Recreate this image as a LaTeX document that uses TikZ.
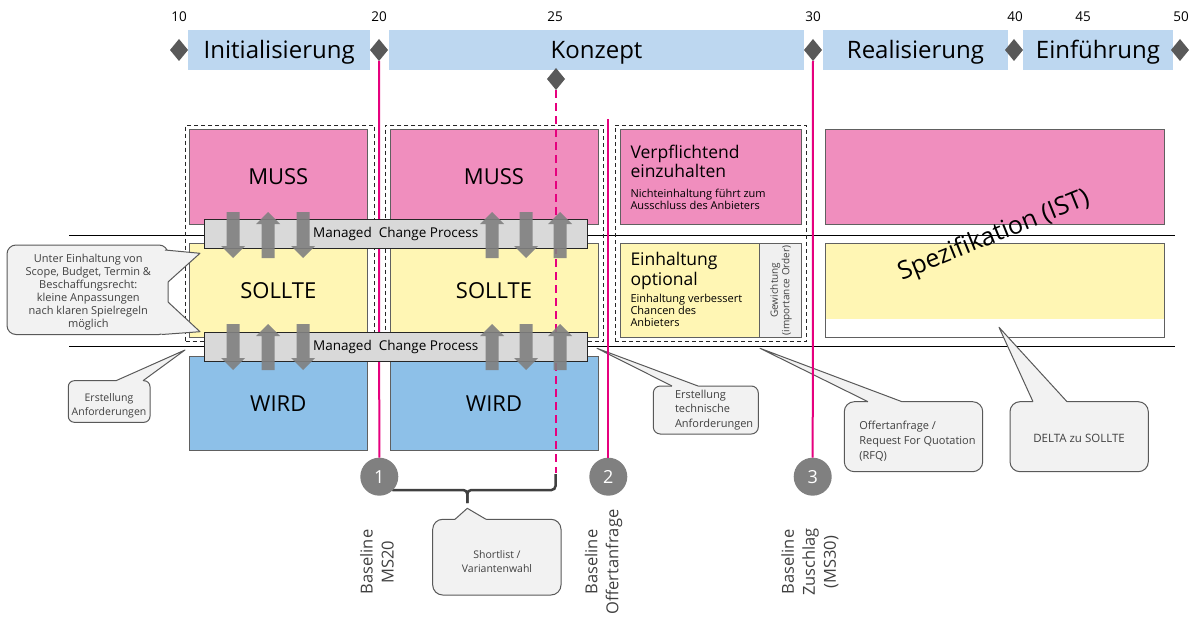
\documentclass[tikz,border=0pt]{standalone}
\usepackage{fontspec}
\setmainfont{Open Sans}
\usetikzlibrary{shapes.geometric}
\definecolor{pinkbox}{RGB}{240,142,190}
\definecolor{yellowbox}{RGB}{255,246,180}
\definecolor{bluebox}{RGB}{141,192,232}
\definecolor{phaseblue}{RGB}{189,215,240}
\definecolor{bargray}{RGB}{217,217,217}
\definecolor{arrowgray}{RGB}{128,128,128}
\definecolor{calloutfill}{RGB}{242,242,242}
\definecolor{calloutline}{RGB}{89,89,89}
\definecolor{msline}{RGB}{230,0,126}
\definecolor{diamondgray}{RGB}{89,89,89}
\definecolor{circlegray}{RGB}{128,128,128}
\definecolor{boxline}{RGB}{96,96,96}
\definecolor{txtgray}{RGB}{64,64,64}
\definecolor{weightgray}{RGB}{240,240,240}
\newcommand\myDn[2]{\fill[arr] ({#1-6.5},{#2}) -- ({#1+6.5},{#2}) -- ({#1+6.5},{#2+34}) -- ({#1+12},{#2+34}) -- ({#1},{#2+46}) -- ({#1-12},{#2+34}) -- ({#1-6.5},{#2+34}) -- cycle;}
\newcommand\myUp[2]{\fill[arr] ({#1},{#2}) -- ({#1+12},{#2+12}) -- ({#1+6.5},{#2+12}) -- ({#1+6.5},{#2+46}) -- ({#1-6.5},{#2+46}) -- ({#1-6.5},{#2+12}) -- ({#1-12},{#2+12}) -- cycle;}
\begin{document}
\begin{tikzpicture}[x=1pt,y=-1pt,
  every node/.style={inner sep=0pt, outer sep=0pt},
  phase/.style={fill=phaseblue, minimum height=40pt, text height=17pt, text depth=0pt, font=\fontsize{24}{28}\selectfont},
  ms/.style={diamond, fill=diamondgray, minimum width=18pt, minimum height=22pt},
  num/.style={font=\fontsize{13.5}{16}\selectfont},
  dbox/.style={draw=black!85, dash pattern=on 4pt off 3pt, line width=0.9pt},
  blk/.style={draw=boxline, line width=1pt, font=\fontsize{22}{26}\selectfont},
  cbar/.style={draw=black!85, fill=bargray, line width=1pt, minimum width=383.3pt, minimum height=29.3pt, font=\fontsize{13.5}{16}\selectfont},
  arr/.style={fill=arrowgray, fill opacity=0.9},
  msl/.style={draw=msline, line width=2pt},
  msc/.style={circle, fill=circlegray, minimum size=38pt, text=white, font=\fontsize{18}{20}\selectfont},
  callout/.style={draw=calloutline, fill=calloutfill, line width=1pt, rounded corners=9pt},
  ptrfill/.style={fill=calloutfill},
  ptrline/.style={draw=calloutline, line width=1pt, line join=round},
  ctext/.style={text=txtgray},
  hl/.style={draw=black, line width=1pt},
  bracket/.style={draw=txtgray, line width=2.5pt, rounded corners=4pt},
  blabel/.style={rotate=90, align=center, text=txtgray, font=\fontsize{16.5}{21}\selectfont},
]
\useasboundingbox (0,0) rectangle (1200,623);

% horizontal separator lines
\coordinate (hlA1) at (69,235.7); \coordinate (hlA2) at (1175,235.7);
\coordinate (hlB1) at (69,346); \coordinate (hlB2) at (1175,346);
\draw[hl] (hlA1) -- (hlA2);
\draw[hl] (hlB1) -- (hlB2);

% phases
\node[phase, minimum width=181.7pt] (ph1) at (279.2,50) {Initialisierung};
\node[phase, minimum width=415pt] (ph2) at (596.5,50) {Konzept};
\node[phase, minimum width=185pt] (ph3) at (915.5,50) {Realisierung};
\node[phase, minimum width=150pt] (ph4) at (1098,50) {Einführung};

% numbers
\node[num] (n10) at (179,17) {10};
\node[num] (n20) at (379,17) {20};
\node[num] (n25) at (555,17) {25};
\node[num] (n30) at (813,17) {30};
\node[num] (n40) at (1015,17) {40};
\node[num] (n45) at (1083,17) {45};
\node[num] (n50) at (1181,17) {50};

% milestones
\node[ms] (d10) at (179,50) {};
\node[ms] (d20) at (379,50) {};
\node[ms] (d30) at (813,50) {};
\node[ms] (d40) at (1014,50) {};
\node[ms] (d50) at (1180,50) {};
\node[ms] (d25) at (556,79) {};

% dashed groups
\node[dbox, minimum width=188.3pt, minimum height=216.7pt] (g1) at (279.85,233.35) {};
\node[dbox, minimum width=218.3pt, minimum height=216.7pt] (g2) at (494.15,233.35) {};
\node[dbox, minimum width=191pt, minimum height=216.7pt] (g3) at (710.5,233.35) {};

% column 1
\node[blk, fill=pinkbox, minimum width=178pt, minimum height=94pt] (m1) at (278.3,177) {MUSS};
\node[blk, fill=yellowbox, minimum width=178pt, minimum height=94pt] (s1) at (278.3,290.3) {SOLLTE};
\node[blk, fill=bluebox, minimum width=178pt, minimum height=93.3pt] (w1) at (278.3,403.4) {WIRD};
% column 2
\node[blk, fill=pinkbox, minimum width=208pt, minimum height=94pt] (m2) at (494,177) {MUSS};
\node[blk, fill=yellowbox, minimum width=208pt, minimum height=94pt] (s2) at (494,290.3) {SOLLTE};
\node[blk, fill=bluebox, minimum width=208pt, minimum height=93.3pt] (w2) at (494,403.4) {WIRD};
% column 3
\node[blk, fill=pinkbox, minimum width=181pt, minimum height=94pt] (m3) at (710.5,177) {};
\node[blk, fill=yellowbox, minimum width=139.3pt, minimum height=94pt] (s3) at (689.65,290.3) {};
\node[blk, fill=weightgray, minimum width=41.7pt, minimum height=94pt] (g3w) at (780.15,290.3) {};
\node[anchor=north west, align=left, font=\fontsize{17.5}{19.5}\selectfont] (t3a) at (630.5,145) {Verpflichtend\\einzuhalten};
\node[anchor=north west, align=left, font=\fontsize{11}{12.3}\selectfont] (t3b) at (630.5,189) {Nichteinhaltung führt zum\\Ausschluss des Anbieters};
\node[anchor=north west, align=left, font=\fontsize{17.5}{19.5}\selectfont] (t3c) at (630.5,252.5) {Einhaltung\\optional};
\node[anchor=north west, align=left, font=\fontsize{11}{12}\selectfont] (t3d) at (630.5,294.5) {Einhaltung verbessert\\Chancen des\\Anbieters};
\node[rotate=90, align=center, text=txtgray, font=\fontsize{10}{11.7}\selectfont] (gw) at (781,290.3) {Gewichtung\\(importance Order)};
% column 4
\node[blk, fill=pinkbox, minimum width=339pt, minimum height=94pt] (m4) at (994.5,177) {};
\fill[yellowbox] (825,243.3) rectangle (1164,319);
\node[blk, minimum width=339pt, minimum height=94pt] (s4) at (994.5,290.3) {};
\node[rotate=22, font=\fontsize{25}{30}\selectfont] (spez) at (994,236) {Spezifikation (IST)};

% bracket
\coordinate (bL) at (389,478);
\coordinate (bR) at (555.5,474);
\coordinate (bM) at (467.3,503);
\draw[bracket] (bL) |- (bM |- 0,490) -- (bM);
\draw[bracket] (bR) |- (bM |- 0,490) -- (bM);

% milestone circles
\node[msc] (c1) at (379.3,476.7) {1};
\node[msc] (c2) at (608.3,476.7) {2};
\node[msc] (c3) at (812.7,476.7) {3};

% milestone lines under bars
\coordinate (dashend) at (556,473);
\draw[msl] (d20) -- (c1);
\draw[msl, dash pattern=on 8pt off 5pt] (d25) -- (dashend);

% managed change bars
\node[cbar] (cp1) at (395.7,233.7) {Managed\ \ Change Process};
\node[cbar] (cp2) at (395.7,347) {Managed\ \ Change Process};

% arrows
\myDn{233}{212} \myUp{268}{212} \myDn{303}{212}
\myDn{233}{324} \myUp{268}{324} \myDn{303}{324}
\myUp{492}{212} \myDn{526}{212} \myUp{560}{212}
\myUp{492}{324} \myDn{526}{324} \myUp{560}{324}

% left callout
\node[callout, minimum width=161pt, minimum height=89.5pt] (cl1) at (87.5,289.75) {};
\fill[ptrfill] (165,250) -- (200,253.3) -- (168,282) -- (164,282) -- (160,252) -- cycle;
\draw[ptrline] (165,250) -- (200,253.3) -- (168,282);
\fill[ptrfill] (168,302) -- (200,331.7) -- (162,334.5) -- (160,331) -- (164,302) -- cycle;
\draw[ptrline] (168,302) -- (200,331.7) -- (162,334.5);
\node[ctext, align=center, font=\fontsize{11}{12.9}\selectfont] (cl1t) at (88.3,292.3) {Unter Einhaltung von\\Scope, Budget, Termin \&\\Beschaffungsrecht:\\kleine Anpassungen\\nach klaren Spielregeln\\möglich};

% Erstellung Anforderungen
\node[callout, rounded corners=6pt, minimum width=81.7pt, minimum height=41.6pt] (cl2) at (109.15,401.5) {};
\fill[ptrfill] (116,380.7) -- (185,350) -- (143,380.7) -- (143,384) -- (116,384) -- cycle;
\draw[ptrline] (116,380.7) -- (185,350) -- (143,380.7);
\node[ctext, align=center, font=\fontsize{10.5}{14}\selectfont] (cl2t) at (109,405.3) {Erstellung\\Anforderungen};

% Erstellung technische Anforderungen
\node[callout, rounded corners=7pt, minimum width=105pt, minimum height=48pt] (cl3) at (705.8,410) {};
\fill[ptrfill] (672,386) -- (597,348.3) -- (698,386) -- (698,389) -- (672,389) -- cycle;
\draw[ptrline] (672,386) -- (597,348.3) -- (698,386);
\node[ctext, anchor=west, align=left, font=\fontsize{11}{14.2}\selectfont] (cl3t) at (675,410) {Erstellung\\technische\\Anforderungen};

% RFQ
\node[callout, rounded corners=10pt, minimum width=138.4pt, minimum height=70pt] (cl4) at (913.5,436.7) {};
\fill[ptrfill] (868,401.7) -- (760,348.3) -- (902,401.7) -- (902,405) -- (868,405) -- cycle;
\draw[ptrline] (868,401.7) -- (760,348.3) -- (902,401.7);
\node[ctext, anchor=west, align=left, font=\fontsize{11}{14.8}\selectfont] (cl4t) at (859.3,441) {Offertanfrage /\\Request For Quotation\\(RFQ)};

% DELTA
\node[callout, rounded corners=10pt, minimum width=138.3pt, minimum height=70pt] (cl5) at (1079.15,436.7) {};
\fill[ptrfill] (1033,401.7) -- (999,327.3) -- (1067,401.7) -- (1067,405) -- (1033,405) -- cycle;
\draw[ptrline] (1033,401.7) -- (999,327.3) -- (1067,401.7);
\node[ctext, font=\fontsize{11.5}{14}\selectfont] (cl5t) at (1079,438) {DELTA zu SOLLTE};

% Shortlist
\node[callout, rounded corners=10pt, minimum width=128.3pt, minimum height=75.7pt] (cl6) at (496.85,557.15) {};
\fill[ptrfill] (455,519.3) -- (467.3,508.3) -- (486,519.3) -- (486,522.5) -- (455,522.5) -- cycle;
\draw[ptrline] (455,519.3) -- (467.3,508.3) -- (486,519.3);
\node[ctext, align=center, font=\fontsize{10.5}{13.3}\selectfont] (cl6t) at (497,561.5) {Shortlist /\\Variantenwahl};

% milestone lines above callouts
\coordinate (m2top) at (608.3,119.5);
\draw[msl] (m2top) -- (c2);
\draw[msl] (d30) -- (c3);

% baseline labels
\node[blabel] (bl1) at (377,562) {Baseline\\MS20};
\node[blabel] (bl2) at (603.5,562) {Baseline\\Offertanfrage};
\node[blabel] (bl3) at (810,562) {Baseline\\Zuschlag\\(MS30)};
\end{tikzpicture}
\end{document}
